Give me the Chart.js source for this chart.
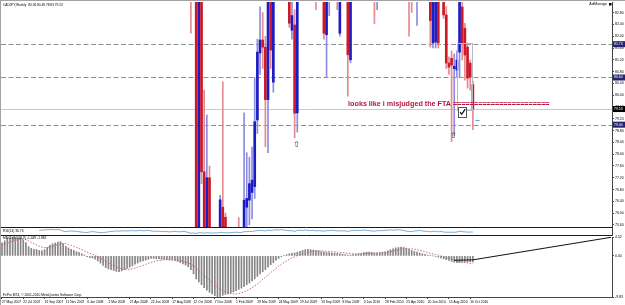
<!DOCTYPE html>
<html>
<head>
<meta charset="utf-8">
<title>CADJPY,Weekly</title>
<script src="https://cdn.jsdelivr.net/npm/chart.js@4.4.1/dist/chart.umd.min.js"></script>
<style>
  html, body { margin: 0; padding: 0; background: #fff; }
  #wrap { position: relative; width: 625px; height: 305px; overflow: hidden; background: #fff; }
  #wrap canvas { position: absolute; left: 0; }
  #frame { position: absolute; left: 0; top: 0; width: 625px; height: 305px; box-sizing: border-box;
           border-top: 1px solid #a3a3a3; border-left: 1px solid #a3a3a3; pointer-events: none; }
</style>
</head>
<body>
<div id="wrap">
  <canvas id="priceChart" width="625" height="227" style="top:0"></canvas>
  <canvas id="rsiChart" width="625" height="10" style="top:226px"></canvas>
  <canvas id="macdChart" width="625" height="70" style="top:235px"></canvas>
  <div id="frame"></div>
</div>
<script>
// ---- data (weekly bars, 27 May 2007 = week 0) ----
const tickWeeks = [0, 8, 16, 24, 32, 40, 48, 56, 64, 72, 80, 88, 96, 104, 112, 120, 128, 136, 144, 152, 160, 168, 176];
const tickLabels = ['27 May 2007', '22 Jul 2007', '16 Sep 2007', '11 Nov 2007', '6 Jan 2008', '2 Mar 2008',
  '27 Apr 2008', '22 Jun 2008', '17 Aug 2008', '12 Oct 2008', '7 Dec 2008', '1 Feb 2009', '29 Mar 2009',
  '24 May 2009', '19 Jul 2009', '13 Sep 2009', '8 Nov 2009', '3 Jan 2010', '28 Feb 2010', '25 Apr 2010',
  '20 Jun 2010', '15 Aug 2010', '10 Oct 2010'];
const priceTicks = [75.6, 76.0, 76.4, 76.8, 77.2, 77.6, 78.0, 78.4, 78.8, 79.2, 79.6, 80.0, 80.4, 80.8, 81.2, 81.6, 82.0, 82.4, 82.8];
const macdTicks = [4.52, 0, -9.83];

const opens = [
  112.6, 113.2, 114.5, 115.6, 116.0, 115.2, 116.4, 117.0, 116.1, 113.5,
  110.8, 106.4, 108.5, 109.2, 110.1, 112.0, 114.8, 116.2, 118.0, 119.5,
  120.4, 118.9, 121.3, 119.7, 113.8, 111.5, 112.9, 114.6, 113.0, 111.7,
  109.8, 106.5, 104.2, 103.0, 104.8, 105.9, 104.6, 101.5, 99.3, 97.8,
  99.6, 100.8, 101.9, 102.5, 103.8, 102.9, 103.9, 104.5, 104.0, 104.7,
  105.5, 104.3, 105.2, 105.8, 104.9, 105.6, 106.8, 105.1, 104.2, 103.4,
  103.9, 102.1, 102.8, 101.4, 100.2, 101.0, 102.3, 100.4, 99.8, 101.3,
  100.1, 95.2, 85.5, 86.2, 74.5, 84.0, 77.4, 75.0, 77.2, 75.0,
  73.5, 74.0, 73.0, 76.2, 75.86, 74.0, 72.5, 73.5, 74.2, 74.8,
  73.2, 73.0, 76.2, 76.44, 76.7, 76.9, 79.16, 81.43, 81.87, 81.63,
  79.85, 84.4, 80.44, 84.5, 86.4, 85.1, 87.3, 85.6, 84.5, 82.2,
  82.38, 79.4, 84.0, 85.8, 84.9, 87.6, 86.2, 85.0, 86.1, 83.8,
  84.5, 84.0, 82.05, 83.8, 84.6, 85.9, 84.8, 82.1, 84.0, 83.8,
  84.2, 81.2, 84.5, 85.6, 86.4, 85.3, 86.8, 88.2, 87.5, 85.6,
  84.3, 83.9, 85.0, 86.5, 85.9, 87.6, 88.9, 90.5, 89.6, 91.9,
  92.5, 91.0, 90.1, 86.9, 86.1, 84.6, 84.9, 86.3, 88.1, 86.8,
  85.1, 84.5, 81.77, 81.8, 83.6, 83.4, 84.3, 82.72, 81.09, 81.25,
  80.9, 80.85, 81.46, 82.99, 82.27, 81.63, 81.09, 80.36
];
const highs = [
  113.9, 114.9, 116.1, 116.8, 116.5, 116.9, 117.6, 117.4, 116.6, 114.2,
  111.4, 109.3, 110.0, 110.9, 112.6, 115.3, 116.8, 118.6, 120.1, 121.0,
  121.2, 122.0, 121.9, 120.2, 114.5, 113.6, 115.2, 115.0, 113.6, 112.3,
  110.4, 107.1, 104.9, 105.5, 106.6, 106.4, 105.1, 102.0, 100.1, 100.3,
  101.5, 102.6, 103.2, 104.4, 104.3, 104.6, 105.2, 105.0, 105.3, 106.2,
  106.0, 105.8, 106.5, 106.3, 106.2, 107.4, 107.3, 105.8, 104.9, 104.6,
  104.4, 103.5, 103.3, 102.0, 101.7, 103.0, 102.8, 101.0, 102.0, 101.8,
  100.6, 96.0, 90.0, 87.0, 85.0, 86.0, 80.17, 79.33, 77.6, 75.4,
  75.3, 75.4, 76.6, 80.45, 76.0, 75.3, 75.0, 75.4, 75.2, 75.85,
  75.4, 79.4, 78.05, 77.9, 78.24, 80.6, 81.9, 83.0, 82.8, 82.0,
  85.0, 85.3, 85.4, 87.2, 87.5, 88.0, 87.9, 86.6, 85.0, 83.2,
  82.9, 84.5, 86.2, 86.4, 88.3, 88.5, 87.0, 86.8, 86.5, 85.2,
  85.0, 84.5, 84.2, 85.1, 86.3, 86.7, 85.2, 84.5, 84.8, 85.0,
  84.6, 85.0, 86.1, 86.8, 86.9, 87.0, 88.7, 89.2, 88.0, 86.1,
  85.0, 85.4, 86.9, 87.0, 88.0, 89.3, 91.0, 91.2, 92.4, 93.1,
  93.0, 92.3, 90.6, 88.5, 87.0, 87.1, 87.0, 88.6, 88.5, 87.3,
  85.8, 85.0, 84.6, 83.9, 84.3, 85.0, 84.6, 83.0, 81.3, 81.5,
  81.4, 81.5, 84.9, 83.5, 82.44, 81.77, 81.19, 80.48
];
const lows = [
  112.0, 112.8, 114.0, 114.9, 114.4, 114.8, 115.9, 115.3, 112.9, 110.1,
  101.0, 105.2, 107.6, 108.4, 109.5, 111.6, 114.1, 115.7, 117.4, 118.8,
  118.1, 118.3, 119.0, 113.0, 110.6, 110.9, 112.4, 112.3, 111.0, 109.1,
  105.8, 103.5, 101.4, 102.4, 104.2, 103.9, 100.8, 98.5, 95.9, 97.1,
  99.0, 100.1, 101.2, 101.9, 102.2, 102.3, 103.4, 103.3, 103.5, 104.1,
  103.6, 103.7, 104.6, 104.2, 104.3, 105.0, 104.5, 103.5, 102.8, 102.9,
  101.5, 101.6, 100.7, 99.5, 99.6, 100.5, 99.7, 98.4, 99.1, 99.3,
  94.5, 82.1, 83.4, 72.5, 73.4, 77.0, 74.0, 73.0, 74.5, 72.5,
  71.5, 72.0, 72.8, 74.5, 72.5, 70.5, 71.5, 72.0, 73.0, 72.5,
  71.8, 72.6, 74.8, 75.6, 75.8, 76.5, 78.7, 80.7, 80.9, 78.25,
  78.05, 80.9, 80.1, 83.8, 84.6, 84.4, 85.0, 83.9, 82.3, 81.9,
  78.55, 78.75, 83.6, 84.2, 84.5, 85.7, 84.4, 84.0, 82.9, 83.3,
  83.5, 81.9, 80.62, 82.7, 84.0, 84.1, 82.9, 82.0, 83.3, 83.4,
  79.97, 81.1, 84.0, 84.9, 84.8, 84.8, 86.3, 87.0, 85.0, 83.9,
  82.43, 82.9, 84.6, 85.2, 85.3, 87.0, 88.4, 89.0, 89.2, 91.0,
  90.4, 89.5, 86.4, 82.0, 82.8, 83.9, 82.37, 85.9, 86.0, 84.6,
  83.4, 81.63, 81.6, 81.6, 81.6, 83.3, 82.6, 80.9, 80.7, 78.42,
  78.62, 80.6, 80.62, 81.19, 80.51, 80.24, 80.17, 78.83
];
const closes = [
  113.2, 114.5, 115.6, 116.0, 115.2, 116.4, 117.0, 116.1, 113.5, 110.8,
  106.4, 108.5, 109.2, 110.1, 112.0, 114.8, 116.2, 118.0, 119.5, 120.4,
  118.9, 121.3, 119.7, 113.8, 111.5, 112.9, 114.6, 113.0, 111.7, 109.8,
  106.5, 104.2, 103.0, 104.8, 105.9, 104.6, 101.5, 99.3, 97.8, 99.6,
  100.8, 101.9, 102.5, 103.8, 102.9, 103.9, 104.5, 104.0, 104.7, 105.5,
  104.3, 105.2, 105.8, 104.9, 105.6, 106.8, 105.1, 104.2, 103.4, 103.9,
  102.1, 102.8, 101.4, 100.2, 101.0, 102.3, 100.4, 99.8, 101.3, 100.1,
  95.2, 85.5, 86.2, 75.0, 84.0, 77.4, 75.0, 77.2, 75.0, 73.5,
  74.0, 73.0, 76.45, 75.0, 74.0, 72.5, 73.5, 74.2, 74.8, 73.2,
  73.0, 76.44, 76.5, 77.0, 77.12, 79.1, 81.46, 81.87, 81.63, 79.85,
  84.5, 81.53, 84.5, 86.4, 85.1, 87.3, 85.6, 84.5, 82.44, 82.7,
  79.39, 84.0, 85.8, 84.9, 87.6, 86.2, 85.0, 86.1, 83.8, 84.5,
  84.0, 82.1, 83.8, 84.6, 85.9, 84.8, 83.4, 84.0, 83.8, 84.2,
  81.37, 84.5, 85.6, 86.4, 85.3, 86.8, 88.2, 87.5, 85.6, 84.3,
  83.9, 85.0, 86.5, 85.9, 87.6, 88.9, 90.5, 89.6, 91.9, 92.5,
  91.0, 90.1, 86.9, 86.1, 84.6, 86.5, 86.3, 88.1, 86.8, 85.1,
  84.0, 82.53, 84.2, 83.5, 81.77, 84.3, 82.72, 81.09, 80.95, 81.02,
  80.98, 81.19, 83.3, 81.77, 81.36, 80.58, 80.61, 79.53
];

const macdMain = [
  3.1, 3.6, 4.0, 4.3, 4.5, 4.52, 4.4, 4.3, 3.8, 3.2,
  2.2, 1.8, 1.6, 1.5, 1.3, 1.2, 1.5, 2.0, 2.5, 2.9,
  3.1, 3.3, 3.4, 2.9, 2.3, 1.9, 1.6, 1.3, 1.0, 0.8,
  0.5, 0.2, -0.2, -0.4, -0.5, -0.8, -1.2, -1.7, -2.3, -2.8,
  -3.1, -3.3, -3.5, -3.7, -3.8, -3.6, -3.3, -3.0, -2.7, -2.4,
  -2.0, -1.7, -1.4, -1.2, -1.0, -0.8, -0.6, -0.6, -0.7, -0.7,
  -0.8, -0.8, -0.9, -1.0, -1.0, -1.1, -1.3, -1.6, -1.9, -2.2,
  -2.6, -3.3, -4.3, -5.5, -6.2, -6.9, -7.6, -8.2, -8.7, -9.1,
  -9.5, -9.83, -9.7, -9.4, -9.2, -9.1, -8.9, -8.6, -8.3, -8.0,
  -7.7, -7.3, -6.9, -6.5, -6.0, -5.5, -4.9, -4.3, -3.8, -3.3,
  -2.7, -2.1, -1.6, -1.0, -0.6, -0.2, 0.1, 0.3, 0.5, 0.6,
  0.7, 0.9, 1.1, 1.3, 1.5, 1.6, 1.5, 1.4, 1.3, 1.2,
  1.0, 0.9, 0.8, 0.8, 0.7, 0.7, 0.6, 0.5, 0.4, 0.3,
  0.2, 0.2, 0.3, 0.4, 0.5, 0.6, 0.8, 0.9, 0.9, 0.8,
  0.7, 0.7, 0.8, 0.9, 1.0, 1.2, 1.5, 1.7, 1.9, 2.0,
  2.1, 2.0, 1.8, 1.6, 1.3, 1.1, 0.9, 0.7, 0.5, 0.4,
  0.2, 0.1, 0.0, -0.1, -0.3, -0.5, -0.7, -0.9, -1.1, -1.3,
  -1.5, -1.6, -1.6, -1.5, -1.5, -1.5, -1.4, -1.449
];
const macdSignal = [
  2.6, 2.8, 3.0, 3.3, 3.5, 3.7, 3.9, 4.0, 4.0, 3.9,
  3.6, 3.2, 2.9, 2.6, 2.3, 2.1, 2.0, 2.0, 2.1, 2.3,
  2.5, 2.7, 2.9, 3.0, 2.9, 2.7, 2.5, 2.3, 2.0, 1.8,
  1.5, 1.2, 0.9, 0.6, 0.4, 0.1, -0.2, -0.5, -0.9, -1.3,
  -1.7, -2.0, -2.3, -2.6, -2.9, -3.1, -3.2, -3.2, -3.2, -3.1,
  -2.9, -2.7, -2.5, -2.3, -2.0, -1.8, -1.6, -1.4, -1.2, -1.1,
  -1.0, -0.9, -0.9, -0.9, -0.9, -1.0, -1.0, -1.1, -1.3, -1.5,
  -1.7, -2.0, -2.4, -2.9, -3.5, -4.1, -4.7, -5.3, -5.9, -6.5,
  -7.0, -7.5, -7.9, -8.3, -8.6, -8.8, -9.0, -9.1, -9.1, -9.0,
  -8.8, -8.6, -8.3, -8.0, -7.6, -7.2, -6.7, -6.2, -5.6, -5.1,
  -4.6, -4.0, -3.5, -3.0, -2.5, -2.0, -1.6, -1.2, -0.8, -0.5,
  -0.2, 0.1, 0.3, 0.5, 0.7, 0.9, 1.0, 1.1, 1.2, 1.2,
  1.2, 1.2, 1.1, 1.1, 1.0, 1.0, 0.9, 0.8, 0.8, 0.7,
  0.6, 0.6, 0.5, 0.5, 0.5, 0.5, 0.5, 0.6, 0.6, 0.7,
  0.7, 0.7, 0.7, 0.8, 0.8, 0.9, 1.0, 1.1, 1.3, 1.4,
  1.6, 1.7, 1.7, 1.7, 1.7, 1.6, 1.5, 1.3, 1.2, 1.0,
  0.8, 0.6, 0.5, 0.3, 0.2, 0.0, -0.2, -0.4, -0.6, -0.8,
  -1.0, -1.2, -1.4, -1.5, -1.6, -1.7, -1.8, -1.882
];
const rsi14 = [
  null, null, null, null, null, null, null, null, null, null,
  null, null, null, null, 58, 62, 65, 67, 69, 70,
  66, 68, 64, 48, 44, 47, 51, 48, 45, 41,
  36, 33, 31, 38, 42, 39, 33, 30, 28, 35,
  40, 44, 47, 51, 48, 51, 53, 51, 53, 55,
  51, 54, 56, 52, 54, 58, 51, 48, 46, 48,
  43, 46, 42, 39, 42, 47, 41, 40, 46, 42,
  31, 22, 25, 18, 30, 27, 24, 29, 26, 24,
  27, 26, 33, 30, 28, 26, 30, 33, 35, 32,
  32, 41, 42, 44, 45, 50, 56, 57, 56, 50,
  61, 55, 62, 66, 63, 67, 62, 58, 53, 55,
  44, 57, 60, 56, 63, 58, 55, 58, 51, 54,
  52, 48, 54, 56, 59, 55, 51, 53, 51, 52,
  44, 53, 56, 58, 54, 58, 62, 59, 54, 50,
  48, 53, 56, 54, 58, 61, 64, 59, 64, 66,
  61, 57, 47, 45, 42, 50, 53, 57, 51, 47,
  44, 40, 47, 45, 40, 44, 38, 34, 35, 34,
  35, 37, 48, 42, 39, 36, 37, 36.76
];

// chart objects drawn on the MT4 window (week, price)
const dashedLevels = [81.73, 80.60, 79.00];
const bidPrice = 79.53;
const arrowMarks = [[110.7, 78.31], [169.7, 78.62]];
const checkMark = [173.1, 79.44];
const boxObject = [170.9, 176.6, 81.77, 79.50];
const askTick = [178.0, 179.5, 79.16];
const noteAnchor = [130.1, 79.70];
const noteText = 'looks like i misjudged the FTA =======================';
const macdTrend = [[170, -1.05], [177, -0.95], [229, 4.45]];

// ---- look ----
const X_MIN = -0.375, X_MAX = 229.3;
const FONT = '"Liberation Sans", Arial, sans-serif';
Chart.defaults.font.family = FONT;
const bodyRed = 'rgb(206,24,38)', bodyBlue = 'rgb(28,28,196)';
const wickRed = 'rgb(226,140,146)', wickBlue = 'rgb(140,140,226)';
const weekIndex = closes.map((c, i) => i);
const isBull = i => closes[i] >= opens[i];

function rightAxis(extra) {
  return Object.assign({
    position: 'right',
    afterFit: s => { s.width = 13; s.paddingTop = 0; s.paddingBottom = 0; },
    ticks: { font: { size: 3.5 }, color: '#000', padding: 1, autoSkip: false },
    grid: { drawOnChartArea: false, tickLength: 2, color: '#444' },
    border: { color: '#444' }
  }, extra);
}
const hiddenX = { type: 'linear', display: false, min: X_MIN, max: X_MAX, offset: false };
const baseOptions = {
  responsive: false, animation: false, events: [],
  plugins: { legend: { display: false }, tooltip: { enabled: false } }
};

// ---- price window ----
const priceDecor = {
  id: 'priceDecor',
  beforeDatasetsDraw(chart) {
    const { ctx, chartArea: a } = chart;
    const y = chart.scales.y;
    ctx.save();
    ctx.lineWidth = 1;
    ctx.strokeStyle = '#8e8e98';
    ctx.setLineDash([5, 2.5]);
    dashedLevels.forEach(v => {
      const py = Math.round(y.getPixelForValue(v)) + 0.5;
      ctx.beginPath(); ctx.moveTo(a.left, py); ctx.lineTo(a.right, py); ctx.stroke();
    });
    ctx.setLineDash([]);
    ctx.strokeStyle = '#cacaca';
    const pb = Math.round(y.getPixelForValue(bidPrice)) + 0.5;
    ctx.beginPath(); ctx.moveTo(a.left, pb); ctx.lineTo(a.right, pb); ctx.stroke();
    ctx.restore();
  },
  afterDatasetsDraw(chart) {
    const { ctx } = chart;
    const { x, y } = chart.scales;
    ctx.save();
    // rectangle object
    ctx.strokeStyle = '#b6b8ca';
    ctx.lineWidth = 1;
    const rx0 = Math.round(x.getPixelForValue(boxObject[0])) + 0.5;
    const rx1 = Math.round(x.getPixelForValue(boxObject[1])) + 0.5;
    const ry0 = Math.round(y.getPixelForValue(boxObject[2])) + 0.5;
    const ry1 = Math.round(y.getPixelForValue(boxObject[3])) + 0.5;
    ctx.strokeRect(rx0, ry0, rx1 - rx0, ry1 - ry0);
    // ask tick
    ctx.strokeStyle = '#3bb3d6';
    const ay = Math.round(y.getPixelForValue(askTick[2])) + 0.5;
    ctx.beginPath(); ctx.moveTo(x.getPixelForValue(askTick[0]), ay); ctx.lineTo(x.getPixelForValue(askTick[1]), ay); ctx.stroke();
    // check box
    const cx = x.getPixelForValue(checkMark[0]), cy = y.getPixelForValue(checkMark[1]);
    ctx.fillStyle = '#fff';
    ctx.fillRect(cx - 4, cy - 5, 8, 10);
    ctx.strokeStyle = '#555';
    ctx.strokeRect(Math.round(cx - 4) + 0.5, Math.round(cy - 5) + 0.5, 8, 10);
    ctx.strokeStyle = '#111';
    ctx.lineWidth = 1.2;
    ctx.beginPath(); ctx.moveTo(cx - 2.5, cy + 0.5); ctx.lineTo(cx - 0.8, cy + 2.5); ctx.lineTo(cx + 2.8, cy - 2.5); ctx.stroke();
    // arrows
    ctx.fillStyle = '#333';
    ctx.font = '8px "DejaVu Sans"';
    ctx.textAlign = 'center';
    ctx.textBaseline = 'middle';
    arrowMarks.forEach(([w, p]) => ctx.fillText('\u21E7', x.getPixelForValue(w), y.getPixelForValue(p)));
    // text note
    ctx.fillStyle = '#b5163f';
    ctx.font = 'bold 7.2px ' + FONT;
    ctx.textAlign = 'left';
    ctx.fillText(noteText, x.getPixelForValue(noteAnchor[0]), y.getPixelForValue(noteAnchor[1]));
    ctx.restore();
  },
  afterDraw(chart) {
    const { ctx, chartArea: a } = chart;
    const y = chart.scales.y;
    const last = closes.length - 1;
    ctx.save();
    ctx.textBaseline = 'middle';
    ctx.font = '3.5px ' + FONT;
    const tags = dashedLevels.map(v => [v, '#23236e']).concat([[bidPrice, '#000']]);
    tags.forEach(([v, col]) => {
      const py = y.getPixelForValue(v);
      ctx.fillStyle = col;
      ctx.fillRect(a.right + 1, py - 3, 12, 6);
      ctx.fillStyle = '#fff';
      ctx.textAlign = 'left';
      ctx.fillText(v.toFixed(2), a.right + 2, py);
    });
    ctx.fillStyle = '#000';
    ctx.font = '3.2px ' + FONT;
    ctx.fillText('CADJPY,Weekly  ' + [opens[last], highs[last], lows[last], closes[last]].map(v => v.toFixed(2)).join(' '), 3, 5);
    ctx.font = '3.5px ' + FONT;
    ctx.textAlign = 'right';
    ctx.fillText('AdiManage', 607, 4.5);
    ctx.fillRect(609, 3, 2.5, 2.5);
    ctx.restore();
  }
};

new Chart(document.getElementById('priceChart'), {
  type: 'bar',
  data: {
    datasets: [
      {
        label: 'range',
        data: weekIndex.map(i => ({ x: i, y: [lows[i], highs[i]] })),
        backgroundColor: weekIndex.map(i => isBull(i) ? wickBlue : wickRed),
        barThickness: 1, grouped: false, order: 2
      },
      {
        label: 'body',
        data: weekIndex.map(i => ({ x: i, y: [opens[i], closes[i]] })),
        backgroundColor: weekIndex.map(i => isBull(i) ? bodyBlue : bodyRed),
        barThickness: 2, grouped: false, minBarLength: 1, order: 1
      }
    ]
  },
  options: Object.assign({}, baseOptions, {
    layout: { padding: { left: 1, top: 2, right: 0, bottom: 0 } },
    scales: {
      x: hiddenX,
      y: rightAxis({
        min: 75.53, max: 83.16, beginAtZero: false,
        afterBuildTicks: s => { s.ticks = priceTicks.map(v => ({ value: v })); },
        ticks: { font: { size: 3.5 }, color: '#000', padding: 1, autoSkip: false, callback: v => v.toFixed(2) }
      })
    }
  }),
  plugins: [priceDecor]
});

// ---- RSI strip ----
const rsiDecor = {
  id: 'rsiDecor',
  afterDraw(chart) {
    const { ctx } = chart;
    ctx.save();
    ctx.fillStyle = '#000';
    ctx.font = '3.3px ' + FONT;
    ctx.textBaseline = 'middle';
    ctx.fillText('RSI(14) ' + rsi14[rsi14.length - 1].toFixed(2), 3, 4.6);
    ctx.restore();
  }
};
new Chart(document.getElementById('rsiChart'), {
  type: 'line',
  data: {
    datasets: [{
      data: weekIndex.map(i => ({ x: i, y: rsi14[i] })),
      borderColor: 'rgb(118,170,214)', borderWidth: 1, pointRadius: 0
    }]
  },
  options: Object.assign({}, baseOptions, {
    layout: { padding: { left: 1, top: 1, right: 0, bottom: 1 } },
    scales: {
      x: hiddenX,
      y: rightAxis({
        min: 0, max: 100,
        afterBuildTicks: s => { s.ticks = [{ value: 0 }, { value: 100 }]; },
        ticks: { display: false },
        grid: { drawOnChartArea: true, drawTicks: false, color: '#1a1a1a' }
      })
    }
  }),
  plugins: [rsiDecor]
});

// ---- MACD window ----
const macdDecor = {
  id: 'macdDecor',
  afterDraw(chart) {
    const { ctx } = chart;
    const last = macdMain.length - 1;
    ctx.save();
    ctx.fillStyle = '#000';
    ctx.font = '3.3px ' + FONT;
    ctx.textBaseline = 'middle';
    ctx.fillText('MACD(12,26,9) ' + macdMain[last].toFixed(3) + ' ' + macdSignal[last].toFixed(3), 3, 3.5);
    ctx.fillText('FxPro MT4, \u00A9 2001-2010 MetaQuotes Software Corp.', 3, 60);
    ctx.restore();
  }
};
new Chart(document.getElementById('macdChart'), {
  type: 'bar',
  data: {
    datasets: [
      {
        type: 'line', label: 'trend',
        data: macdTrend.map(([w, v]) => ({ x: w, y: v })),
        borderColor: '#111', borderWidth: 1, pointRadius: 0, order: 0
      },
      {
        type: 'line', label: 'signal',
        data: weekIndex.map(i => ({ x: i, y: macdSignal[i] })),
        borderColor: 'rgb(212,100,112)', borderWidth: 1, borderDash: [1.5, 1.5], pointRadius: 0, order: 1
      },
      {
        type: 'bar', label: 'macd',
        data: weekIndex.map(i => ({ x: i, y: macdMain[i] })),
        backgroundColor: '#858585', barThickness: 1, grouped: false, order: 2
      }
    ]
  },
  options: Object.assign({}, baseOptions, {
    layout: { padding: { left: 1, top: 2, right: 0, bottom: 0 } },
    scales: {
      x: {
        type: 'linear', min: X_MIN, max: X_MAX, offset: false,
        afterBuildTicks: s => { s.ticks = tickWeeks.map(v => ({ value: v })); },
        afterFit: s => { s.height = 8; s.paddingLeft = 0; s.paddingRight = 0; },
        ticks: {
          font: { size: 3.3 }, color: '#000', align: 'start', padding: 1, maxRotation: 0, autoSkip: false,
          callback: v => tickLabels[tickWeeks.indexOf(v)]
        },
        grid: { drawOnChartArea: false, tickLength: 2, color: '#444', offset: false },
        border: { color: '#444' }
      },
      y: rightAxis({
        min: -9.83, max: 4.52, beginAtZero: false,
        afterBuildTicks: s => { s.ticks = macdTicks.map(v => ({ value: v })); },
        ticks: { font: { size: 3.5 }, color: '#000', padding: 1, autoSkip: false, callback: v => v.toFixed(2) }
      })
    }
  }),
  plugins: [macdDecor]
});
</script>
</body>
</html>
